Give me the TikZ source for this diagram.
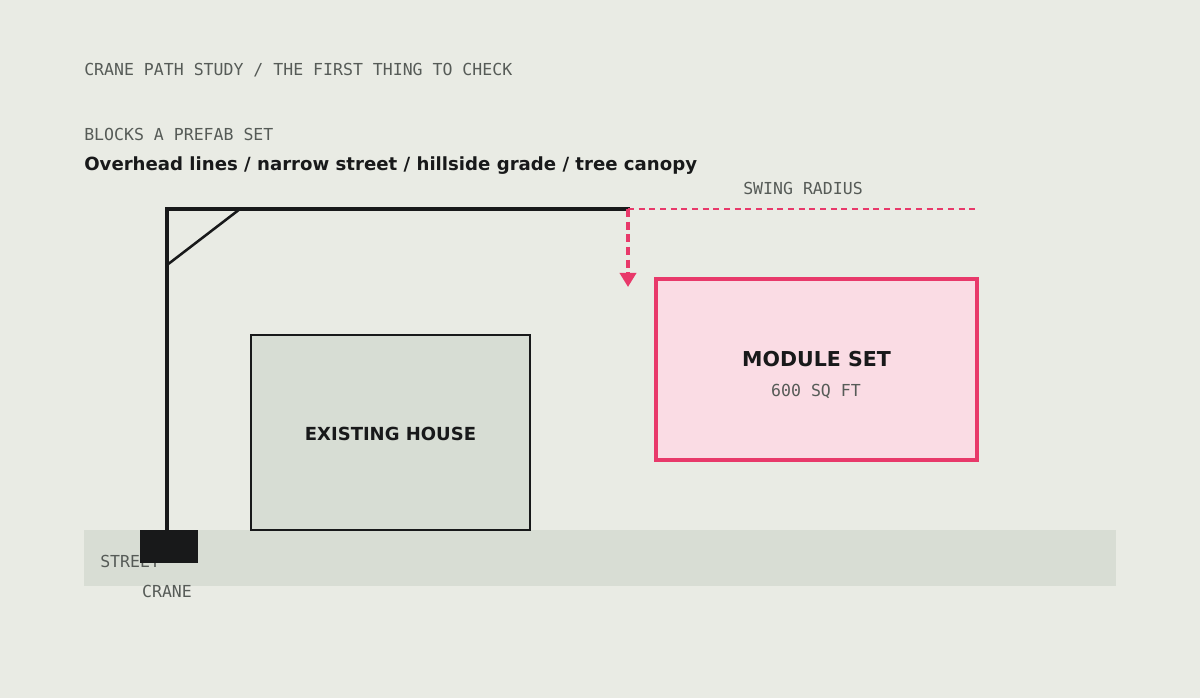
\documentclass[tikz,border=0pt]{standalone}
\usepackage{fontspec}
\setmainfont{DejaVu Sans}
\newfontfamily\monofont{DejaVu Sans Mono}
\usetikzlibrary{arrows.meta, positioning}
\definecolor{paper}{HTML}{E9EBE4}
\definecolor{streetgray}{HTML}{D8DDD4}
\definecolor{housefill}{HTML}{D7DDD4}
\definecolor{ink}{HTML}{18191A}
\definecolor{labelgray}{HTML}{565B57}
\definecolor{alertpink}{HTML}{E8396A}
\definecolor{modulefill}{HTML}{FADCE4}
\tikzset{
  monolabel/.style={font=\monofont\fontsize{12.4}{14}\selectfont, text=labelgray, inner sep=0pt},
  boldlabel/.style={font=\bfseries\fontsize{13.6}{16}\selectfont, text=ink, inner sep=0pt},
  cranebar/.style={draw=ink, line width=3.2pt},
  swingline/.style={draw=alertpink, line width=1.5pt, dash pattern=on 4.5pt off 3.5pt}
}
\begin{document}
\begin{tikzpicture}[x=0.75pt, y=-0.75pt]
  % page
  \fill[paper] (0,0) rectangle (1200,698);
  \useasboundingbox (0,0) rectangle (1200,698);

  % headings
  \node[monolabel, anchor=base west] (title) at (84,75.5) {CRANE PATH STUDY / THE FIRST THING TO CHECK};
  \node[monolabel, anchor=base west] (blocks) at (84,140.5) {BLOCKS A PREFAB SET};
  \node[boldlabel, anchor=base west] (list) at (84,170.5) {Overhead lines / narrow street / hillside grade / tree canopy};

  % street
  \fill[streetgray] (84,530) rectangle (1116,586);
  \node[monolabel, anchor=base west] (street) at (100,567.5) {STREET};

  % existing house
  \node[draw=ink, line width=1.5pt, fill=housefill, minimum width=279*0.75pt, minimum height=195*0.75pt,
        anchor=south west, inner sep=0pt, outer sep=0pt] (house) at (251,530) {};
  \node[boldlabel, font=\bfseries\fontsize{13.5}{16}\selectfont, anchor=base] (houselabel) at (390.5,441) {EXISTING HOUSE};

  % module set
  \node[draw=alertpink, line width=2.4pt, fill=modulefill, minimum width=321*0.75pt, minimum height=181*0.75pt,
        anchor=north west, inner sep=0pt, outer sep=0pt] (module) at (656,279) {};
  \node[boldlabel, font=\bfseries\fontsize{15.4}{18}\selectfont, anchor=base] (modulelabel) at (816.5,366.5) {MODULE SET};
  \node[monolabel, anchor=base] (area) at (816,396.5) {600 SQ FT};

  % crane
  \coordinate (mastfoot) at (167,530);
  \coordinate (masttop) at (167,209);
  \coordinate (jibtip) at (628,209);
  \draw[cranebar, line cap=rect] (mastfoot) -- (masttop) -- (jibtip);
  \draw[draw=ink, line width=1.9pt] (167,265) -- (240,209);
  \fill[ink] (140,530) rectangle (198,563);
  \node[monolabel, anchor=base] (cranelabel) at (167,597) {CRANE};

  % swing radius
  \coordinate (swingend) at (977,209);
  \coordinate (droppoint) at (628,287);
  \draw[swingline] (jibtip) -- (swingend);
  \draw[swingline, line width=2.6pt, dash pattern=on 6pt off 3.5pt, -{Triangle[length=10.5pt, width=12pt]}] (jibtip) -- (droppoint);
  \node[monolabel, anchor=base] (swinglabel) at (803,195) {SWING RADIUS};
\end{tikzpicture}
\end{document}
